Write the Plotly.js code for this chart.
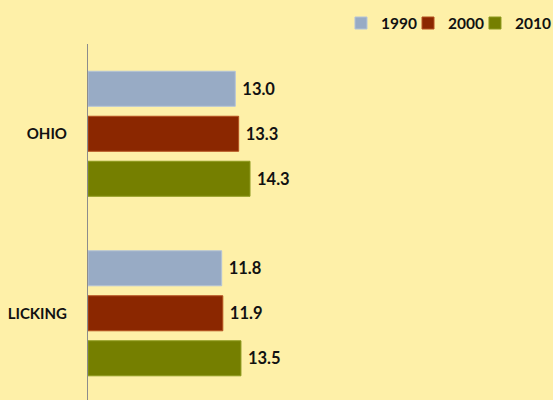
<!DOCTYPE html>
<html><head><meta charset="utf-8">
<script src="https://cdn.plot.ly/plotly-3.0.1.min.js"></script>
<style>html,body{margin:0;padding:0;background:#FEF0A8;}</style>
</head><body>
<div id="chart" style="width:553px;height:400px;"></div>
<script>
const categories = ['OHIO', 'LICKING'];
const seriesNames = ['1990', '2000', '2010'];
const values1990 = [13.0, 11.8];
const values2000 = [13.3, 11.9];
const values2010 = [14.3, 13.5];
const colors = ['#98ABC5', '#8B2700', '#757F00'];
const edgeColors = ['#B4C4D8', '#B5501E', '#8E9A1E'];

const legendIds = ['legend', 'legend2', 'legend3'];
const legendX = [0.556, 0.7033, 0.8505];

const all = [values1990, values2000, values2010];
const traces = all.map((vals, i) => ({
  type: 'bar',
  orientation: 'h',
  name: seriesNames[i],
  legend: legendIds[i],
  y: categories,
  x: vals,
  text: vals.map(v => ' ' + v.toFixed(1)),
  textposition: 'outside',
  cliponaxis: false,
  textfont: {family: 'Lato, sans-serif', size: 16.5, color: '#111', weight: 'bold'},
  marker: {color: colors[i], line: {color: edgeColors[i], width: 1}},
  hoverinfo: 'none'
}));

const layout = {
  width: 553, height: 400,
  paper_bgcolor: '#FEF0A8', plot_bgcolor: '#FEF0A8',
  margin: {l: 88, r: 10, t: 44, b: 0, autoexpand: false},
  barmode: 'group',
  bargap: 0.248,
  bargroupgap: 0.222,
  showlegend: true,
  xaxis: {range: [0, 40.16], visible: false, showgrid: false, zeroline: false},
  yaxis: {type: 'category', categoryorder: 'array', categoryarray: categories,
    range: [1.483, -0.5], showline: true, linecolor: '#8C8C8C', linewidth: 1,
    ticks: '', showgrid: false, zeroline: false, ticklabelstandoff: 17,
    tickfont: {family: 'Lato, sans-serif', size: 15, color: '#111', weight: 'bold'}},
  font: {family: 'Lato, sans-serif'}
};
legendIds.forEach((id, i) => {
  layout[id] = {orientation: 'h', x: legendX[i], xanchor: 'left', y: 1.01, yanchor: 'bottom',
    font: {family: 'Lato, sans-serif', size: 15.5, color: '#111', weight: 'bold'},
    bgcolor: 'rgba(0,0,0,0)'};
});

Plotly.newPlot('chart', traces, layout, {staticPlot: true, displayModeBar: false});
</script>
</body></html>
